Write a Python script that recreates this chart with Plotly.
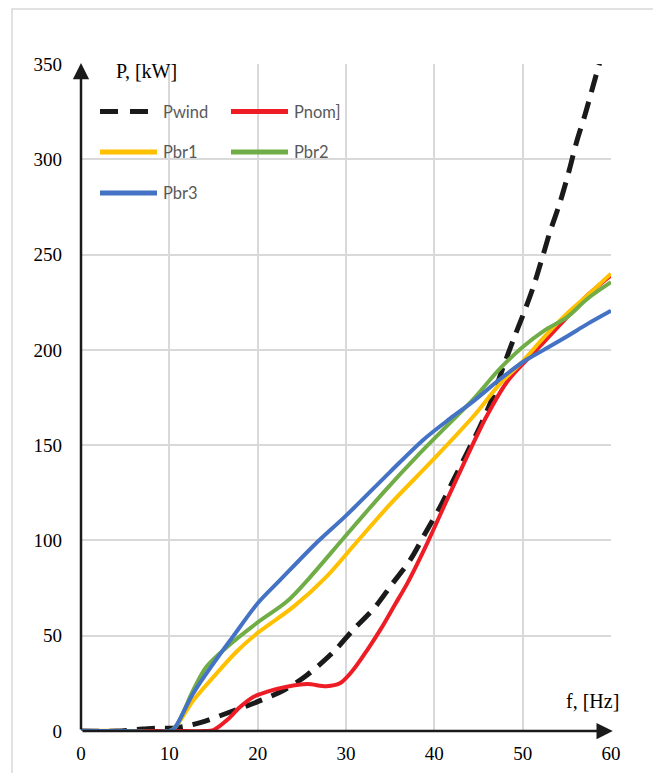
import plotly.graph_objects as go

# ---- data ----
pwind_f = [0, 4, 7, 8.5, 10.5, 13.5, 16.5, 20, 23, 25.6, 28.6, 30.8, 33.2, 35.2, 37.3, 39, 40.7, 42.2,
           43.7, 45.2, 46.5, 47.8, 49, 50.1, 51.2, 52.2, 53.1, 54.2, 55.2, 56.1, 57.1, 58, 58.8]
pwind = [0, 0, 1, 1.5, 1.5, 4.4, 9.3, 15.4, 21.5, 29.4, 41.6, 53, 64.5, 77, 90, 104, 118, 132,
         146, 160, 174, 191, 206, 219, 233, 248, 262, 277, 293, 309, 324, 339, 352]

pnom_f = [0, 10, 14, 15, 16.5, 18, 19.5, 21, 23.3, 25.6, 27.8, 29.3, 30.8, 32.4, 34, 35.5, 37, 39.2,
          41.4, 43.7, 45.9, 48.2, 50.1, 52.4, 55, 57.3, 60]
pnom = [0, 0, 0, 0.5, 5.6, 12.6, 17.9, 20.5, 23.2, 24.6, 23.5, 25, 32, 42.5, 54, 66, 78, 98.6,
        121, 144, 165, 183, 193, 204, 217, 228.5, 239]

pbr1_f = [0, 5, 8.5, 10, 11, 12.7, 15, 17.6, 20, 24, 27.8, 31, 35, 40, 44.4, 47.4, 50, 52.4, 55,
          57.3, 60]
pbr1 = [0, 0, -1, -0.5, 4, 16, 28.4, 41.6, 51.5, 65, 81, 98, 119, 143, 165, 182, 194, 206.5, 219,
        228.5, 240]

pbr2_f = [0, 5, 8.5, 10, 10.7, 12.7, 14.2, 16.5, 20, 23.3, 25.8, 29.7, 34.2, 38, 41.4, 44.4,
          47.4, 50, 52.4, 55, 57.3, 60]
pbr2 = [0, 0, -0.5, 0, 2, 21.4, 33.7, 44, 57, 67.9, 80, 101, 125, 144, 160, 174,
        190, 201.5, 210, 217, 226.7, 235.5]

pbr3_f = [0, 5, 8.5, 10, 10.5, 12.7, 15, 17.2, 20, 22.5, 26.5, 30, 35, 38.8, 41.8, 44.4,
          47.4, 50, 52.4, 55, 57.3, 60]
pbr3 = [0, 0, -0.5, 0, 1, 19.7, 35.5, 49.5, 67, 79, 98, 113, 136, 153, 164, 173,
        184.5, 193.5, 200, 207, 213.5, 220.5]

x_ticks = [0, 10, 20, 30, 40, 50, 60]
y_ticks = [0, 50, 100, 150, 200, 250, 300, 350]

names = ["Pwind", "Pnom]", "Pbr1", "Pbr2", "Pbr3"]
colors = ["#1a1a1a", "#ee1c25", "#ffc000", "#70ad47", "#4472c4"]

fig = go.Figure()
series = [(pwind_f, pwind), (pnom_f, pnom), (pbr1_f, pbr1), (pbr2_f, pbr2), (pbr3_f, pbr3)]
for i, (fx, py) in enumerate(series):
    fig.add_trace(go.Scatter(
        x=fx, y=py, mode="lines", name=names[i],
        line=dict(color=colors[i], width=5 if i == 0 else 4, shape="spline", smoothing=0.9,
                  dash="18px,10px" if i == 0 else "solid"),
        showlegend=False, hoverinfo="skip"))

OFF = 8  # page body margin
W, H = 661 - 2 * OFF, 781 - 2 * OFF
PL, PR, PT, PB = 81, 611, 64, 730.7  # plot area in window pixels
L, T = PL - OFF, PT - OFF
R = W - L - (PR - PL)
B = H - T - (PB - PT)
pw, ph = PR - PL, PB - PT

def px(xp):
    return (xp - PL) / pw

def py_(yp):
    return (PB - yp) / ph

shapes = []
# outer frame
shapes.append(dict(type="rect", xref="paper", yref="paper", x0=px(12), x1=px(656),
                   y0=py_(800), y1=py_(9), line=dict(color="#d9d9d9", width=1.5),
                   fillcolor="rgba(0,0,0,0)", layer="below"))
# white patch behind y-axis title
shapes.append(dict(type="rect", xref="paper", yref="paper", x0=px(100), x1=px(220),
                   y0=py_(60), y1=py_(68), line=dict(width=0), fillcolor="white", layer="between"))

# manual legend
rows = [111.5, 152, 193]
cols = [(100, 157, 161), (231, 288, 292)]
pos = [(0, 0), (0, 1), (1, 0), (1, 1), (2, 0)]
annotations = []
for i, (r, c) in enumerate(pos):
    x0, x1, xt = cols[c]
    yy = py_(rows[r])
    shapes.append(dict(type="line", xref="paper", yref="paper", x0=px(x0), x1=px(x1),
                       y0=yy, y1=yy,
                       line=dict(color=colors[i], width=5,
                                 dash="18px,12px" if i == 0 else "solid")))
    annotations.append(dict(xref="paper", yref="paper", x=px(xt), y=yy, text=names[i],
                            showarrow=False, xanchor="left", yanchor="middle",
                            font=dict(family="Lato", size=16.5, color="#595959")))

serif = "Liberation Serif"
# axis titles
annotations.append(dict(xref="paper", yref="paper", x=px(114), y=py_(71), text="P, [kW]",
                        showarrow=False, xanchor="left", yanchor="middle",
                        font=dict(family=serif, size=20, color="black")))
annotations.append(dict(xref="paper", yref="paper", x=px(621), y=py_(701), text="f, [Hz]",
                        showarrow=False, xanchor="right", yanchor="middle", bgcolor="white",
                        font=dict(family=serif, size=20, color="black")))
# axis arrows
annotations.append(dict(x=60.2, y=0, ax=0, ay=0, xref="x", yref="y", axref="x", ayref="y",
                        text="", showarrow=True, arrowhead=2, arrowsize=1.3, arrowwidth=2.5,
                        arrowcolor="#1a1a1a", standoff=0, startstandoff=0))
annotations.append(dict(x=0, y=350.5, ax=0, ay=0, xref="x", yref="y", axref="x", ayref="y",
                        text="", showarrow=True, arrowhead=2, arrowsize=1.3, arrowwidth=2.5,
                        arrowcolor="#1a1a1a", standoff=0, startstandoff=0))

fig.update_layout(
    width=W, height=H, margin=dict(l=L, r=R, t=T, b=B, autoexpand=False),
    paper_bgcolor="white", plot_bgcolor="white",
    shapes=shapes, annotations=annotations, showlegend=False,
    xaxis=dict(range=[0, 60], tickvals=x_ticks, ticktext=[str(v) for v in x_ticks],
               showgrid=True, gridcolor="#d9d9d9", gridwidth=2, zeroline=False, showline=False,
               ticks="", ticklabelstandoff=9, automargin=False,
               tickfont=dict(family=serif, size=19, color="black")),
    yaxis=dict(range=[0, 350], tickvals=y_ticks, ticktext=[str(v) for v in y_ticks],
               showgrid=True, gridcolor="#d9d9d9", gridwidth=2, zeroline=False, showline=False,
               ticks="", ticklabelstandoff=18, automargin=False,
               tickfont=dict(family=serif, size=19, color="black")),
)

fig.write_html("out.html")
